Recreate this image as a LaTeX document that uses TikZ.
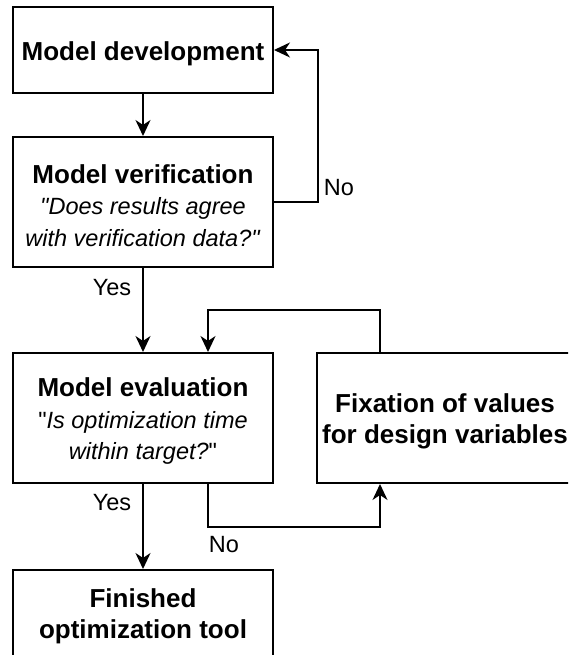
\documentclass[tikz,border=0pt]{standalone}
\usepackage{fontspec}
\setmainfont{Liberation Sans}[Ligatures=TeXOff]
\usetikzlibrary{arrows.meta}

\tikzset{
  box/.style={draw=black, line width=2pt, fill=white, inner sep=0pt, minimum width=260pt},
  boxtext/.style={align=center, inner sep=0pt, yshift=-3.5pt, font=\fontsize{26}{31.5}\selectfont},
  conn/.style={line width=2pt, -{Stealth[length=16pt,width=15pt,inset=5pt]}},
  lbl/.style={inner sep=0pt, font=\fontsize{23.5}{28}\selectfont},
}
\newcommand{\qm}{\char"22\relax}
\newcommand{\subq}[1]{{\fontsize{23.5}{31.5}\selectfont #1}}

\begin{document}
\begin{tikzpicture}[x=1pt, y=-1pt]
  \useasboundingbox (0,0) rectangle (568,655);
  \clip (0,0) rectangle (568,655);

  % process boxes
  \node[box, minimum height=86pt,
        label={[boxtext]center:\textbf{Model development}}] (b1) at (143,50) {};
  \node[box, minimum height=130pt,
        label={[boxtext]center:\textbf{Model verification}\\
          \subq{\textit{\qm Does results agree}}\\
          \subq{\textit{with verification data?\qm}}}] (b2) at (143,202) {};
  \node[box, minimum height=130pt,
        label={[boxtext]center:\textbf{Model evaluation}\\
          \subq{\qm\textit{Is optimization time}}\\
          \subq{\textit{within target?}\qm}}] (b3) at (143,418) {};
  \node[box, minimum width=256pt, minimum height=130pt,
        label={[boxtext]center:\textbf{Fixation of values}\\
          \textbf{for design variables}}] (b4) at (445,418) {};
  \node[box, minimum height=86pt,
        label={[boxtext]center:\textbf{Finished}\\
          \textbf{optimization tool}}] (b5) at (143,613) {};

  % x positions of the side connectors
  \coordinate (ex) at (208,0);
  \coordinate (fx) at (380,0);

  % connectors
  \draw[conn] (b1.south) -- (b2.north);
  \draw[conn] (b2.east) -- ++(44,0) |- (b1.east);
  \draw[conn] (b2.south) -- (b3.north);
  \draw[conn] (b4.north -| fx) -- ++(0,-42) -| (b3.north -| ex);
  \draw[conn] (b3.south -| ex) -- ++(0,43) -| (b4.south -| fx);
  \draw[conn] (b3.south) -- (b5.north);

  % connector labels
  \node[lbl] (lno1) at (339,188) {No};
  \node[lbl] (lyes1) at (112,288) {Yes};
  \node[lbl] (lyes2) at (112,503) {Yes};
  \node[lbl] (lno2) at (224,545) {No};
\end{tikzpicture}
\end{document}
